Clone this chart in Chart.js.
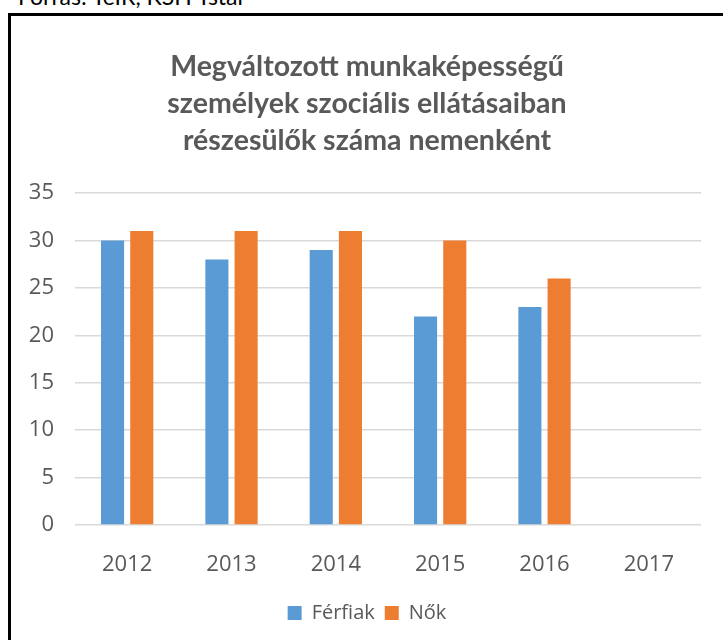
<!DOCTYPE html>
<html>
<head>
<meta charset="utf-8">
<script src="https://cdn.jsdelivr.net/npm/chart.js@4"></script>
<style>
  body { margin: 0; background: #fff; width: 723px; height: 640px; overflow: hidden; position: relative; }
  #forras { position: absolute; left: 18px; top: -18px; font: 23px Lato, "Open Sans", sans-serif; color: #000; white-space: nowrap; }
  #keret { position: absolute; left: 8px; top: 13px; width: 720px; height: 640px; border-left: 3px solid #000; border-top: 3px solid #000; }
  #doboz { position: absolute; left: 11px; top: 16px; width: 712px; height: 624px; }
</style>
</head>
<body>
<div id="forras">Forrás: TeIR, KSH Tstar</div>
<div id="keret"></div>
<div id="doboz"><canvas id="grafikon"></canvas></div>
<script>
  // adatok
  const evek = ['2012', '2013', '2014', '2015', '2016', '2017'];
  const ferfiak = [30, 28, 29, 22, 23, null];
  const nok = [31, 31, 31, 30, 26, null];

  const szurke = '#595959';
  const cimBetu = 'Lato, "Open Sans", sans-serif';
  const betu = '"Open Sans", sans-serif';

  const ctx = document.getElementById('grafikon').getContext('2d');
  new Chart(ctx, {
    type: 'bar',
    data: {
      labels: evek,
      datasets: [
        { label: 'Férfiak', data: ferfiak, backgroundColor: '#5b9bd5', categoryPercentage: 0.56, barPercentage: 0.79 },
        { label: 'Nők', data: nok, backgroundColor: '#ed7d31', categoryPercentage: 0.56, barPercentage: 0.79 }
      ]
    },
    options: {
      responsive: true,
      maintainAspectRatio: false,
      animation: false,
      layout: { padding: { left: 0, right: 0, top: 0, bottom: 7 } },
      plugins: {
        title: {
          display: true,
          text: ['Megváltozott munkaképességű', 'személyek szociális ellátásaiban', 'részesülők száma nemenként'],
          color: szurke,
          font: { family: cimBetu, size: 28.5, weight: 'bold', lineHeight: 1.3 },
          padding: { top: 32, bottom: 34 }
        },
        legend: {
          position: 'bottom',
          labels: { color: szurke, font: { family: betu, size: 20 }, boxWidth: 14, boxHeight: 14, padding: 10 }
        },
        tooltip: { enabled: false }
      },
      scales: {
        x: {
          grid: { display: false },
          border: { display: false },
          ticks: { color: szurke, font: { family: betu, size: 22 }, padding: 19 },
          afterFit: s => { s.height = 68; }
        },
        y: {
          min: 0, max: 35,
          ticks: { stepSize: 5, color: szurke, font: { family: betu, size: 22 }, padding: 21 },
          grid: { color: '#d9d9d9', lineWidth: 1.5, drawTicks: false },
          border: { display: false },
          afterFit: s => { s.width = 64; }
        },
        // üres jobb oldali sáv, hogy a cím a teljes doboz közepén legyen
        jobb: {
          position: 'right',
          grid: { display: false },
          border: { display: false },
          ticks: { display: false },
          afterFit: s => { s.width = 22; }
        }
      }
    }
  });
</script>
</body>
</html>
